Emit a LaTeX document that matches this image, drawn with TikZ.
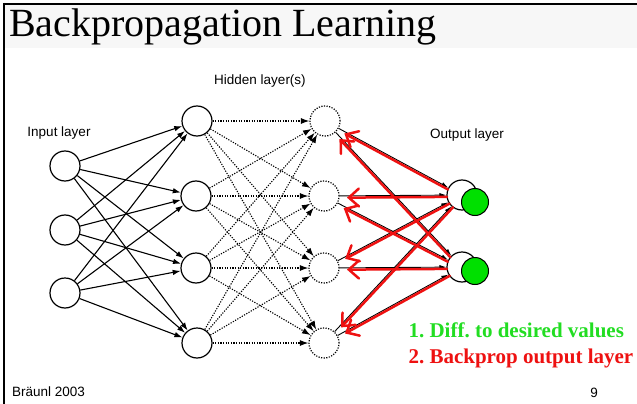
\documentclass[tikz,border=0pt]{standalone}
\usepackage{fontspec}
\setmainfont{Liberation Serif}
\setsansfont{Liberation Sans}
\usetikzlibrary{arrows.meta,calc}
\definecolor{band}{HTML}{F7F7F7}
\definecolor{nodegreen}{HTML}{00E000}
\definecolor{textgreen}{HTML}{22DD22}
\definecolor{backred}{HTML}{EE1111}
\frenchspacing
\begin{document}
\begin{tikzpicture}[x=1pt,y=-1pt,
  neuron/.style={circle,draw,line width=1.2pt,minimum size=30pt,inner sep=0pt,fill=white},
  dneuron/.style={neuron,dash pattern=on 1.2pt off 1.4pt},
  fwd/.style={line width=1.1pt,-{Latex[length=8pt,width=5.5pt]}},
  dfwd/.style={line width=1.1pt,dash pattern=on 1.2pt off 1.4pt,-{Latex[length=8.5pt,width=6pt]}},
  outfwd/.style={line width=0.9pt,-{Latex[length=7pt,width=4.5pt]}},
  back/.style={color=backred,line width=2.5pt,line cap=round,-{Straight Barb[length=10pt,width=18pt,line cap=round]}},
  lbl/.style={font=\sffamily\fontsize{13.5}{16}\selectfont},
  note/.style={anchor=base west,font=\bfseries\fontsize{21}{24}\selectfont}
]
\useasboundingbox (0,0) rectangle (637,404);

% slide frame and title band
\fill[band] (4,5) rectangle (637,48);
\draw[line width=2pt] (3,4) -- (637,4);
\draw[line width=2pt] (4,3) -- (4,404);
\node[anchor=base west,font=\fontsize{40}{44}\selectfont,inner sep=0pt] (title) at (9,37) {Backpropagation Learning};

% layer captions
\node[lbl] (inlbl) at (59,133) {Input layer};
\node[lbl] (hidlbl) at (260,81) {Hidden layer(s)};
\node[lbl] (outlbl) at (467,135) {Output layer};

% neurons
\node[neuron] (i1) at (65,166) {};
\node[neuron] (i2) at (65,230) {};
\node[neuron] (i3) at (65,293) {};
\node[neuron] (h1) at (197,121) {};
\node[neuron] (h2) at (196,196) {};
\node[neuron] (h3) at (196,268) {};
\node[neuron] (h4) at (197,343) {};
\node[dneuron] (g1) at (325,121) {};
\node[dneuron] (g2) at (324,196) {};
\node[dneuron] (g3) at (324,268) {};
\node[dneuron] (g4) at (324,343) {};
\node[neuron] (o1) at (462,195) {};
\node[neuron] (o2) at (462,267) {};

% forward connections
\foreach \a in {i1,i2,i3}
  \foreach \b in {h1,h2,h3,h4}
    \draw[fwd] (\a) -- (\b);
\foreach \a in {h1,h2,h3,h4}
  \foreach \b in {g1,g2,g3,g4}
    \draw[dfwd] (\a) -- (\b);
\foreach \a in {g1,g2,g3,g4}
  \foreach \b in {o1,o2}
    \draw[outfwd] (\a) -- (\b);

% error signals sent back from the output layer
\foreach \b in {o1,o2}
  \foreach \a in {g1,g2,g3,g4}
    \draw[back] ($(\b)!15pt!(\a)!1.8pt!90:(\a)$) -- ($(\a)!23pt!(\b)!1.8pt!-90:(\b)$);

% desired values at the outputs
\node[circle,draw,line width=1pt,fill=nodegreen,minimum size=27pt,inner sep=0pt] (d1) at (475,202) {};
\node[circle,draw,line width=1pt,fill=nodegreen,minimum size=27pt,inner sep=0pt] (d2) at (475,271) {};

% step notes
\node[note,text=textgreen] (step1) at (405,337) {1. Diff. to desired values};
\node[note,text=backred] (step2) at (405,363) {2. Backprop output layer};

% footer
\node[anchor=base west,lbl,inner sep=0pt] (author) at (12,396) {Bräunl 2003};
\node[anchor=base,lbl,inner sep=0pt] (page) at (594,397) {9};
\end{tikzpicture}
\end{document}
